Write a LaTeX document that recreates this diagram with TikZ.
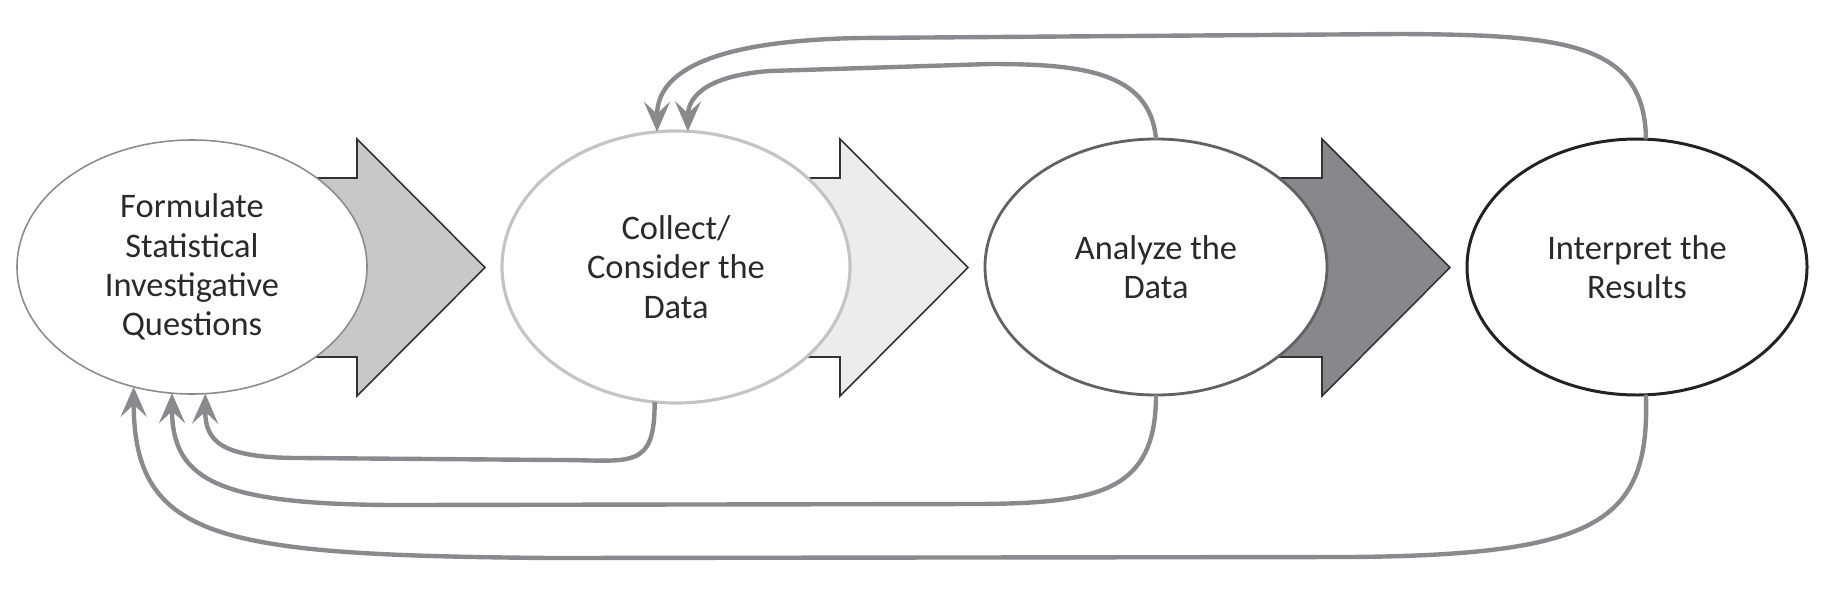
\documentclass[tikz,border=0pt]{standalone}
\usepackage{fontspec}
\setmainfont{Carlito}
\usepackage{xcolor}
\usetikzlibrary{arrows.meta,shapes.geometric}

\definecolor{textgray}{HTML}{2A2A2A}
\definecolor{outlinegray}{HTML}{333333}
\definecolor{loopgray}{HTML}{898A8D}
\definecolor{fillA}{HTML}{C8C8CA}
\definecolor{fillB}{HTML}{ECECEC}
\definecolor{fillC}{HTML}{87888C}
\definecolor{ringA}{HTML}{8C8C8C}
\definecolor{ringB}{HTML}{C4C4C4}
\definecolor{ringC}{HTML}{626266}
\definecolor{ringD}{HTML}{232325}

\begin{document}
\begin{tikzpicture}
    \tikzstyle{stage} = [shape=ellipse, fill=white, inner sep=0pt, outer sep=0pt, align=center, text=textgray, font=\fontsize{9.8}{11.2}\selectfont];
    \tikzstyle{blockarrow} = [draw=outlinegray, line width=0.45pt, line join=miter];
    \tikzstyle{loopback} = [draw=loopgray, line width=1.25pt, -{Stealth[length=3mm,width=2.6mm,inset=1.2mm]}];

    \useasboundingbox (0,0) rectangle (18.25,5.91);

    \filldraw[blockarrow, fill=fillA] (1.92,4.13) -- (3.57,4.13) -- (3.57,4.52) -- (4.85,3.235) -- (3.57,1.95) -- (3.57,2.34) -- (1.92,2.34) -- cycle;
    \filldraw[blockarrow, fill=fillB] (6.76,4.13) -- (8.40,4.13) -- (8.40,4.52) -- (9.68,3.235) -- (8.40,1.95) -- (8.40,2.34) -- (6.76,2.34) -- cycle;
    \filldraw[blockarrow, fill=fillC] (11.56,4.13) -- (13.22,4.13) -- (13.22,4.52) -- (14.50,3.235) -- (13.22,1.95) -- (13.22,2.34) -- (11.56,2.34) -- cycle;

    \node[stage, minimum width=3.50cm, minimum height=2.54cm, draw=ringA, line width=0.45pt](Q) at (1.92,3.24) {Formulate\\Statistical\\Investigative\\Questions};
    \node[stage, minimum width=3.48cm, minimum height=2.72cm, draw=ringB, line width=0.9pt](C) at (6.76,3.24) {Collect/\\Consider the\\Data};
    \node[stage, minimum width=3.42cm, minimum height=2.56cm, draw=ringC, line width=0.8pt](A) at (11.56,3.24) {Analyze the\\Data};
    \node[stage, minimum width=3.40cm, minimum height=2.56cm, draw=ringD, line width=0.85pt](I) at (16.37,3.24) {Interpret the\\Results};

    \draw[loopback] (C.-99) .. controls (6.55,1.2) and (6.3,1.31) .. (5.6,1.31) -- (3.0,1.33) .. controls (2.2,1.33) and (2.05,1.5) .. (Q.-84);
    \draw[loopback] (A.south) .. controls (11.56,1.0) and (11.0,0.88) .. (9.8,0.87) -- (4.0,0.86) .. controls (2.2,0.86) and (1.72,1.1) .. (Q.-99);
    \draw[loopback] (I.-86) .. controls (16.5,0.7) and (16.0,0.36) .. (13.5,0.34) -- (5.5,0.33) .. controls (2.2,0.36) and (1.34,0.5) .. (Q.-116);

    \draw[loopback] (A.north) .. controls (11.5,5.2) and (10.8,5.27) .. (9.9,5.27) -- (7.7,5.2) .. controls (7.0,5.15) and (6.88,4.9) .. (C.85);
    \draw[loopback] (I.86) .. controls (16.45,5.5) and (15.6,5.56) .. (14.0,5.57) -- (8.6,5.53) .. controls (6.9,5.5) and (6.57,5.1) .. (C.98);
\end{tikzpicture}
\end{document}
